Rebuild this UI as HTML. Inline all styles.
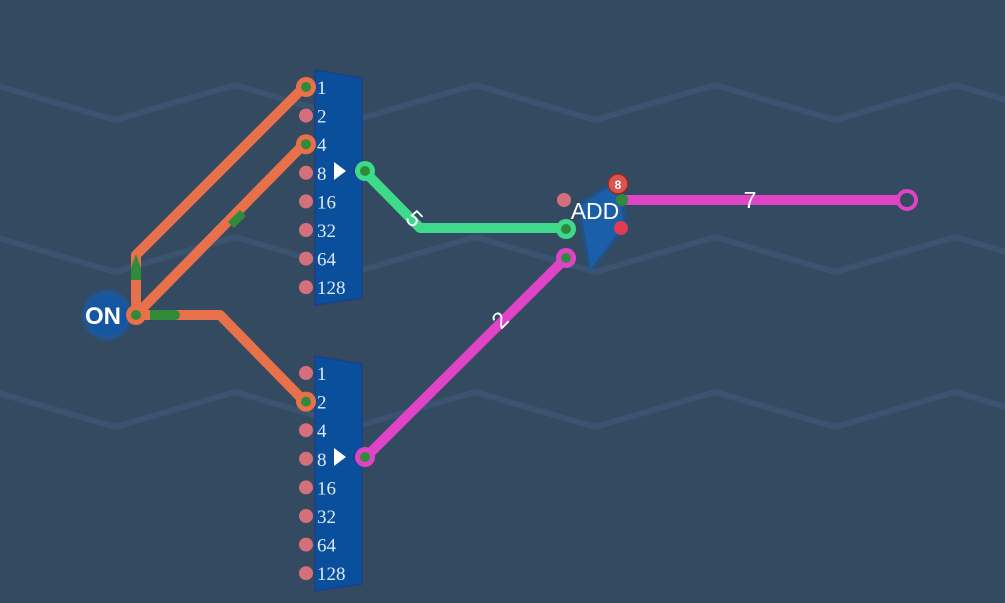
<!DOCTYPE html>
<html><head><meta charset="utf-8"><style>
html,body{margin:0;padding:0;background:#344a60;}
svg{display:block}
.serif{font-family:"Liberation Serif",serif;}
.sans{font-family:"Liberation Sans",sans-serif;}
.narrow{font-family:"Liberation Sans Narrow","Liberation Sans",sans-serif;}
</style></head><body>
<svg width="1005" height="603" viewBox="0 0 1005 603">
<defs>
<filter id="glow" x="-50%" y="-50%" width="200%" height="200%"><feGaussianBlur stdDeviation="2.5"/></filter>
</defs>
<g id="zig" stroke="#3a5370" stroke-width="6" fill="none"></g>

<g stroke="#e8704a" stroke-width="10" fill="none" stroke-linejoin="round" stroke-linecap="round">
<polyline points="136,315 136,255 305,86"/>
<polyline points="136,315 305,143"/>
<polyline points="136,315 220,315 305,402"/>
</g>
<g fill="#2f8a3a">
<path d="M131,268 l5,-14 l5,14 l0,12 l-10,0z"/>
<path d="M228,222 l12,-12 l6,6 l-12,12z"/>
<path d="M150,310 l25,0 a5,5 0 0 1 0,10 l-25,0z"/>
</g>

<polyline points="365,172 420,228 566,228" stroke="#3ed98a" stroke-width="10" fill="none" stroke-linejoin="round"/>
<text class="sans" x="413" y="226" font-size="23" fill="#fff" transform="rotate(45 413 220)" text-anchor="middle">5</text>
<line x1="365" y1="458" x2="566" y2="258" stroke="#e044c6" stroke-width="10"/>
<text class="sans" x="500" y="328" font-size="23" fill="#fff" transform="rotate(-45 500 320)" text-anchor="middle">2</text>
<line x1="622" y1="200" x2="907" y2="200" stroke="#e044c6" stroke-width="10"/>
<text class="sans" x="750" y="208" font-size="23" fill="#fff" text-anchor="middle">7</text>
<circle cx="907" cy="200" r="9" fill="#344a60" stroke="#e044c6" stroke-width="4"/>

<circle cx="107" cy="315" r="24" fill="#1d5aa6" filter="url(#glow)"/>
<circle cx="107" cy="315" r="21" fill="#1656a0"/>
<text class="narrow" x="103" y="324" font-weight="bold" font-size="24" fill="#fff" text-anchor="middle">ON</text>
<circle cx="136" cy="315" r="10" fill="#e8704a"/>
<circle cx="136" cy="315" r="5" fill="#2f8a3a"/>

<g id="mux1"></g>
<g id="mux2"></g>

<path d="M578,205 L622,176 L626,226 L590,272 Z" fill="#1656a0" filter="url(#glow)"/>
<path d="M580,206 L620,180 L623,225 L591,268 Z" fill="#1b5fa8"/>
<circle cx="564" cy="200" r="7" fill="#d4707c"/>
<circle cx="566" cy="229" r="10" fill="#3ed98a"/><circle cx="566" cy="229" r="5" fill="#2f8a3a"/>
<circle cx="566" cy="258" r="10" fill="#e044c6"/><circle cx="566" cy="258" r="5" fill="#2f8a3a"/>
<circle cx="622" cy="200" r="6" fill="#2f8a3a"/>
<circle cx="621" cy="228" r="7" fill="#e23a50"/>
<text class="sans" x="595" y="219" font-size="23" fill="#fff" text-anchor="middle">ADD</text>
<circle cx="618" cy="184" r="10" fill="#d9534f" stroke="#8a2a2a" stroke-width="1.5"/>
<text class="sans" x="618" y="189" font-weight="bold" font-size="12" fill="#fff" text-anchor="middle">8</text>
</svg>
<script>
const bits=[1,2,4,8,16,32,64,128];
const topOn=[1,4];
const botOn=[2];
const NS="http://www.w3.org/2000/svg";
function el(t,a,p){const e=document.createElementNS(NS,t);for(const k in a)e.setAttribute(k,a[k]);p.appendChild(e);return e;}
const zg=document.getElementById('zig');
[85,237,392].forEach(y=>{let d="M-125,"+(y+35);for(let x=-125;x<1130;x+=240){d+=" L"+(x+120)+","+y+" L"+(x+240)+","+(y+35);}
const p=el('path',{d:d},zg);

});
function mux(id,y0,on,outColor){
const g=document.getElementById(id);
const r=el('path',{d:`M315,${y0} L362,${y0+8} L362,${y0+93} a8,8 0 0 0 0,16 L362,${y0+228} L315,${y0+235} Z`,fill:'#0a4f9c',stroke:'#1a3f8a','stroke-width':1.5},g);


bits.forEach((b,i)=>{const y=y0+17+i*28.6;
const isOn=on.includes(b);
if(isOn){el('circle',{cx:306,cy:y,r:10,fill:'#e8704a'},g);const c=el('circle',{cx:306,cy:y,r:5,fill:'#2f8a3a'},g);

}
else{const c=el('circle',{cx:306,cy:y,r:7,fill:'#d4707c'},g);

}
const t=el('text',{x:317,y:y+7,'font-size':19,fill:'#dfe8f5','class':'serif'},g);t.textContent=b;

});
const oy=y0+101;
const a=el('path',{d:`M334,${oy-9} L346,${oy} L334,${oy+9} Z`,fill:'#fff'},g);


el('circle',{cx:365,cy:oy,r:10,fill:outColor},g);
const o=el('circle',{cx:365,cy:oy,r:5,fill:'#2f8a3a'},g);

}
mux('mux1',70,topOn,'#3ed98a');
mux('mux2',356,botOn,'#e044c6');
</script>
</body></html>
